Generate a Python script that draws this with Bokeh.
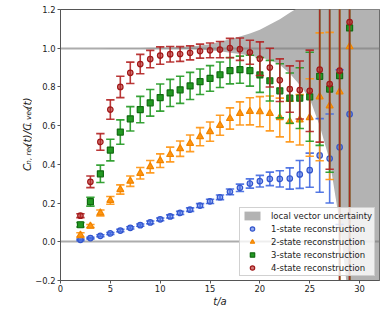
from math import pi
from bokeh.plotting import figure
from bokeh.layouts import row
from bokeh.models import (ColumnDataSource, FixedTicker, CustomJSTickFormatter,
                          Legend, LegendItem)
from bokeh.core.properties import value
from bokeh.embed import file_html
from bokeh.resources import INLINE

# ---------------- data ----------------
t_vals = list(range(2, 30))

rec1 = [0.010, 0.019, 0.031, 0.043, 0.058, 0.072, 0.086, 0.100, 0.116, 0.131,
        0.149, 0.166, 0.187, 0.209, 0.230, 0.258, 0.279, 0.301, 0.313, 0.325,
        0.325, 0.327, 0.348, 0.370, 0.446, 0.430, 0.489, 0.659]
rec1_err = [0.004, 0.004, 0.005, 0.005, 0.006, 0.006, 0.006, 0.007, 0.007, 0.008,
            0.008, 0.009, 0.010, 0.011, 0.012, 0.015, 0.019, 0.024, 0.030, 0.035,
            0.042, 0.055, 0.072, 0.088, 0.190, 0.230, 0.400, 0.900]

rec2 = [0.035, 0.081, 0.149, 0.214, 0.270, 0.313, 0.354, 0.388, 0.419, 0.451,
        0.481, 0.509, 0.543, 0.569, 0.602, 0.637, 0.663, 0.674, 0.672, 0.663,
        0.642, 0.621, 0.630, 0.642, 0.749, 0.702, 0.775, 1.008]
rec2_err = [0.012, 0.008, 0.015, 0.020, 0.024, 0.027, 0.030, 0.032, 0.035, 0.038,
            0.040, 0.043, 0.047, 0.050, 0.052, 0.055, 0.060, 0.070, 0.078, 0.090,
            0.100, 0.105, 0.130, 0.200, 0.330, 0.380, 1.200, 1.500]

rec3 = [0.088, 0.207, 0.351, 0.474, 0.567, 0.635, 0.683, 0.718, 0.745, 0.769,
        0.785, 0.805, 0.827, 0.844, 0.863, 0.884, 0.889, 0.884, 0.862, 0.832,
        0.780, 0.742, 0.742, 0.749, 0.855, 0.789, 0.858, 1.105]
rec3_err = [0.012, 0.023, 0.045, 0.056, 0.063, 0.063, 0.068, 0.069, 0.070, 0.070,
            0.070, 0.070, 0.066, 0.066, 0.066, 0.068, 0.070, 0.080, 0.090, 0.105,
            0.140, 0.130, 0.157, 0.230, 0.357, 0.430, 1.300, 1.500]

rec4 = [0.135, 0.310, 0.516, 0.683, 0.800, 0.873, 0.918, 0.944, 0.962, 0.969,
        0.970, 0.976, 0.985, 0.989, 0.993, 1.001, 0.995, 0.979, 0.946, 0.900,
        0.835, 0.789, 0.784, 0.780, 0.889, 0.815, 0.884, 1.135]
rec4_err = [0.010, 0.030, 0.043, 0.050, 0.055, 0.055, 0.050, 0.045, 0.045, 0.040,
            0.038, 0.036, 0.036, 0.038, 0.042, 0.050, 0.058, 0.062, 0.087, 0.100,
            0.110, 0.120, 0.150, 0.210, 0.374, 0.440, 1.300, 1.500]

band_t = list(range(0, 33))
band_hi = [1.0002, 1.0002, 1.0003, 1.0003, 1.0004, 1.0005, 1.0007, 1.001, 1.0013,
           1.002, 1.003, 1.004, 1.006, 1.009, 1.014, 1.021, 1.033, 1.046, 1.060,
           1.076, 1.096, 1.122, 1.150, 1.183, 1.215, 1.26, 1.35, 1.5, 1.8, 2.3,
           3.0, 3.5, 4.0]
band_lo = [0.9999, 0.9999, 0.9998, 0.9998, 0.9998, 0.9997, 0.9996, 0.9995, 0.9993,
           0.999, 0.9985, 0.998, 0.997, 0.996, 0.993, 0.990, 0.984, 0.977, 0.970,
           0.962, 0.952, 0.940, 0.915, 0.870, 0.810, 0.740, 0.600, 0.420, 0.100,
           -0.350, -1.0, -1.5, -2.0]

ref_lines = [0.0, 1.0]
x_ticks = [0, 5, 10, 15, 20, 25, 30]
y_ticks = [-0.2, 0.0, 0.2, 0.4, 0.6, 0.8, 1.0, 1.2]

series_labels = ["1-state reconstruction", "2-state reconstruction",
                 "3-state reconstruction", "4-state reconstruction"]
band_label = "local vector uncertainty"
x_label = "t/a"
# y label: C_{n, rec}(t)/C_{l, vec}(t), as (text, is_subscript) pieces
y_label_pieces = [("C", False), ("n, rec", True), ("(t)/C", False),
                  ("l, vec", True), ("(t)", False)]

# ---------------- layout constants ----------------
TOTAL_W, H = 390, 312
LW = 32                      # width of the y-label strip
W = TOTAL_W - LW
BL, BR, BT, BB = 26, 11, 9, 32
X0, X1, Y0, Y1 = 0, 32, -0.2, 1.2
TXT = "#222222"
SPINE = "#555555"

# ---------------- main figure ----------------
p = figure(width=W, height=H, x_range=(X0, X1), y_range=(Y0, Y1),
           output_backend="svg", toolbar_location=None,
           min_border_left=BL, min_border_right=BR,
           min_border_top=BT, min_border_bottom=BB)
p.xgrid.visible = False
p.ygrid.visible = False
p.outline_line_color = SPINE
p.outline_line_width = 1

for ax in (p.xaxis[0], p.yaxis[0]):
    ax.axis_line_color = SPINE
    ax.major_tick_line_color = SPINE
    ax.major_tick_out = 3
    ax.major_tick_in = 0
    ax.minor_tick_out = 0
    ax.minor_tick_in = 0
    ax.major_label_text_font = "DejaVu Sans"
    ax.major_label_text_font_size = "8.4px"
    ax.major_label_text_color = TXT
p.xaxis.ticker = FixedTicker(ticks=x_ticks)
p.yaxis.ticker = FixedTicker(ticks=y_ticks)
p.xaxis.major_label_standoff = 1
p.yaxis.major_label_standoff = 2
p.yaxis.formatter = CustomJSTickFormatter(
    code="return (tick < -1e-9 ? '\u2212' : '') + Math.abs(tick).toFixed(1);")
p.xaxis.axis_label = x_label
p.xaxis.axis_label_text_font = "DejaVu Sans"
p.xaxis.axis_label_text_font_style = "italic"
p.xaxis.axis_label_text_font_size = "10px"
p.xaxis.axis_label_text_color = TXT
p.xaxis.axis_label_standoff = 1

# uncertainty band
band_r = p.varea(x=band_t, y1=band_lo, y2=band_hi, fill_color="#b3b3b3")

# reference lines
p.hspan(y=ref_lines, line_color="#808080", line_alpha=0.65, line_width=2)

styles = [
    dict(color="#4169E1", edge="#3355cc", marker="circle", size=5.5, falpha=0.55),
    dict(color="#FF9410", edge="#f08400", marker="triangle", size=7, falpha=1.0),
    dict(color="#229922", edge="#126b12", marker="square", size=6, falpha=1.0),
    dict(color="#B22222", edge="#a01818", marker="circle", size=5.5, falpha=0.6),
]
cap_half = 0.42

items = [LegendItem(label=band_label, renderers=[band_r])]
for vals, errs, st, lab in zip([rec1, rec2, rec3, rec4],
                               [rec1_err, rec2_err, rec3_err, rec4_err],
                               styles, series_labels):
    src = ColumnDataSource(dict(
        t=t_vals, v=vals,
        lo=[v - e for v, e in zip(vals, errs)],
        hi=[v + e for v, e in zip(vals, errs)],
        cl=[t - cap_half for t in t_vals],
        cr=[t + cap_half for t in t_vals]))
    for x0, y0, x1, y1 in (("t", "lo", "t", "hi"), ("cl", "lo", "cr", "lo"),
                           ("cl", "hi", "cr", "hi")):
        p.segment(x0=x0, y0=y0, x1=x1, y1=y1, source=src,
                  line_color=st["color"], line_width=1.6, line_alpha=0.9)
    r = p.scatter(x="t", y="v", source=src, marker=st["marker"], size=st["size"],
                  fill_color=st["color"], fill_alpha=st["falpha"],
                  line_color=st["edge"], line_width=1.2)
    items.append(LegendItem(label=lab, renderers=[r]))

legend = Legend(items=items, location="bottom_right", margin=4,
                padding=2, spacing=2, glyph_width=20, glyph_height=11,
                label_height=11, label_standoff=9,
                label_text_font="DejaVu Sans", label_text_font_size="8.5px",
                label_text_color=TXT,
                background_fill_color="white", background_fill_alpha=0.8,
                border_line_color="#cccccc", border_line_alpha=0.9)
p.add_layout(legend)

# ---------------- y-label strip (rotated, with subscripts) ----------------
lab_fig = figure(width=LW, height=H, x_range=(0, LW), y_range=(H, 0),
                 output_backend="svg", toolbar_location=None,
                 x_axis_location=None, y_axis_location=None,
                 min_border_left=0, min_border_right=0,
                 min_border_top=0, min_border_bottom=0)
lab_fig.xgrid.visible = False
lab_fig.ygrid.visible = False
lab_fig.outline_line_color = None

adv = {"C": .698, "n": .634, ",": .318, " ": .318, "r": .411, "e": .615,
       "c": .550, "(": .390, "t": .392, ")": .390, "/": .337, "l": .278,
       "v": .592}
main_fs, sub_fs = 10.5, 7.3
base_main, base_sub = 26.0, 27.6


def text_len(s, size):
    return sum(adv[ch] for ch in s) * size


total = sum(text_len(s, sub_fs if sub else main_fs) for s, sub in y_label_pieces)
pos = (BT + (H - BB)) / 2 + total / 2
cols = {False: dict(x=[], y=[], text=[]), True: dict(x=[], y=[], text=[])}
for s, sub in y_label_pieces:
    fs = sub_fs if sub else main_fs
    cols[sub]["x"].append(base_sub if sub else base_main)
    cols[sub]["y"].append(pos)
    cols[sub]["text"].append(s)
    pos -= text_len(s, fs)
for sub, fs in ((False, main_fs), (True, sub_fs)):
    lab_fig.text(x="x", y="y", text="text", source=ColumnDataSource(cols[sub]),
                 angle=pi / 2, text_align="left", text_baseline="alphabetic",
                 text_font=value("DejaVu Sans"), text_font_style="italic",
                 text_font_size=f"{fs}px", text_color=TXT)

layout = row(lab_fig, p, spacing=0)
open("out.html", "w", encoding="utf-8").write(file_html(layout, INLINE))
